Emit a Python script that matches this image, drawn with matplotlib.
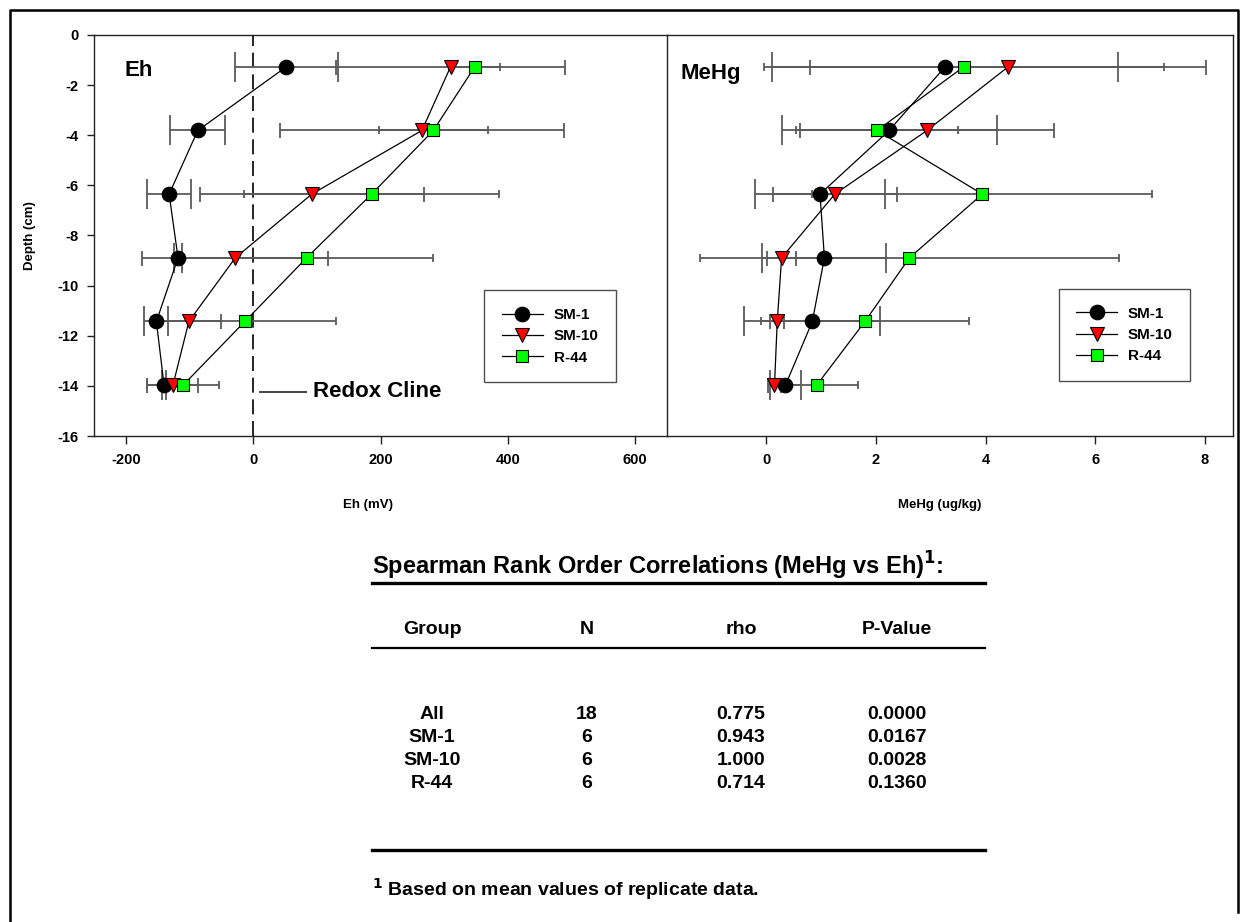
import matplotlib
matplotlib.use("Agg")
import matplotlib.pyplot as plt
from matplotlib.lines import Line2D

plt.rcParams['font.family'] = ['Liberation Sans', 'DejaVu Sans']
plt.rcParams['font.weight'] = 'bold'
plt.rcParams['axes.unicode_minus'] = False

# ---- data -------------------------------------------------------------
depth = [-1.27, -3.81, -6.35, -8.89, -11.43, -13.97]

eh_sm1 = [52, -87, -132, -118, -152, -140]
eh_sm1_err = [81, 43, 34, 6, 19, 3]
eh_sm10 = [310, 265, 92, -28, -101, -126]
eh_sm10_err = [180, 223, 176, 146, 51, 40]
eh_r44 = [348, 283, 186, 84, -13, -110]
eh_r44_err = [40, 86, 200, 199, 143, 57]

mehg_sm1 = [3.26, 2.24, 0.98, 1.06, 0.84, 0.35]
mehg_sm1_err = [3.16, 1.96, 1.19, 1.13, 1.24, 0.28]
mehg_sm10 = [4.41, 2.93, 1.25, 0.28, 0.20, 0.15]
mehg_sm10_err = [3.61, 2.31, 1.13, 0.26, 0.13, 0.12]
mehg_r44 = [3.60, 2.02, 3.94, 2.61, 1.80, 0.92]
mehg_r44_err = [3.65, 1.48, 3.10, 3.82, 1.89, 0.76]

series_names = ["SM-1", "SM-10", "R-44"]
eh_ticks = [-200, 0, 200, 400, 600]
mehg_ticks = [0, 2, 4, 6, 8]
depth_ticks = [0, -2, -4, -6, -8, -10, -12, -14, -16]

groups = ["All", "SM-1", "SM-10", "R-44"]
n_obs = [18, 6, 6, 6]
rho = [0.775, 0.943, 1.000, 0.714]
p_value = [0.0000, 0.0167, 0.0028, 0.1360]

# ---- figure -------------------------------------------------------------
W, H = 1248, 922
fig = plt.figure(figsize=(W / 100, H / 100), dpi=100)


def fx(px):
    return px / W


def fy(py):
    return 1 - py / H


ax_top, ax_bot = 35, 436
ax1 = fig.add_axes([fx(94), fy(ax_bot), fx(667) - fx(94), fy(ax_top) - fy(ax_bot)])
ax2 = fig.add_axes([fx(667), fy(ax_bot), fx(1233) - fx(667), fy(ax_top) - fy(ax_bot)])
ax1.patch.set_visible(False)
ax2.patch.set_visible(False)

styles = [
    dict(marker='o', mfc='black', ms=10.5, cap=10.8),
    dict(marker='v', mfc='#ff0000', ms=10.5, cap=5.4),
    dict(marker='s', mfc='#00ff00', ms=8.8, cap=2.6),
]

err_color = '#5a5a5a'


def draw_panel(ax, xs, errs):
    handles = []
    for x, e, st in zip(xs, errs, styles):
        ax.errorbar(x, depth, xerr=e, fmt='none', ecolor=err_color,
                    elinewidth=1.3, capsize=st['cap'], capthick=1.3, zorder=2)
    for x, st, name in zip(xs, styles, series_names):
        h, = ax.plot(x, depth, color='black', lw=0.9, marker=st['marker'],
                     ms=st['ms'], mfc=st['mfc'], mec='black', mew=0.8,
                     label=name, zorder=3)
        handles.append(h)
    return handles


h1 = draw_panel(ax1, [eh_sm1, eh_sm10, eh_r44], [eh_sm1_err, eh_sm10_err, eh_r44_err])
h2 = draw_panel(ax2, [mehg_sm1, mehg_sm10, mehg_r44], [mehg_sm1_err, mehg_sm10_err, mehg_r44_err])

spine_color = '#222222'
for ax in (ax1, ax2):
    ax.set_ylim(-16, 0)
    for s in ax.spines.values():
        s.set_color(spine_color)
        s.set_linewidth(1.0)
    ax.tick_params(axis='x', direction='out', length=6, width=1.0,
                   color=spine_color, labelsize=10.5, pad=6)

ax1.set_xlim(-250, 650)
ax1.set_xticks(eh_ticks)
ax1.set_yticks(depth_ticks)
ax1.set_yticklabels([str(t) for t in depth_ticks])
ax1.tick_params(axis='y', direction='out', length=5, width=1.0,
                color=spine_color, labelsize=10.5, pad=6)

ax2.set_xlim(-1.81, 8.51)
ax2.set_xticks(mehg_ticks)
ax2.set_yticks([])
ax2.spines['left'].set_visible(False)

# redox cline
ax1.axvline(0, color='black', lw=1.2, dashes=(9, 4), zorder=1)
ax1.plot([11, 83], [-14.24, -14.24], color='#444444', lw=1.4)
ax1.text(94, -14.24, "Redox Cline", fontsize=16, fontweight='bold',
         va='center', ha='left')

ax1.text(-202, -1.4, "Eh", fontsize=16, fontweight='bold', va='center', ha='left')
ax2.text(-1.56, -1.55, "MeHg", fontsize=16, fontweight='bold', va='center', ha='left')

ax1.set_ylabel("Depth (cm)", fontsize=9.5, fontweight='bold', va='center')
ax1.yaxis.set_label_coords(-0.112, 0.5)
ax1.set_xlabel("Eh (mV)", fontsize=9.5, fontweight='bold', va='center')
ax1.xaxis.set_label_coords(0.478, -0.172)
ax2.set_xlabel("MeHg (ug/kg)", fontsize=9.5, fontweight='bold', va='center')
ax2.xaxis.set_label_coords(0.482, -0.172)

for ax, handles, anchor in ((ax1, h1, (484, 290.5)), (ax2, h2, (1058.5, 289))):
    leg = ax.legend(handles=handles, loc='upper left',
                    bbox_to_anchor=(fx(anchor[0]), fy(anchor[1])),
                    bbox_transform=fig.transFigure, borderaxespad=0,
                    frameon=True, fancybox=False, numpoints=1,
                    handlelength=2.7, handletextpad=0.7, borderpad=1.15,
                    labelspacing=0.48, prop=dict(weight='bold', size=11))
    leg.get_frame().set_edgecolor('#222222')
    leg.get_frame().set_linewidth(1.0)

# ---- statistics table ----------------------------------------------------
def hline(y, x0, x1, lw):
    fig.add_artist(Line2D([fx(x0), fx(x1)], [fy(y), fy(y)], color='black',
                          lw=lw, transform=fig.transFigure))


tfs = 14
fig.text(fx(372), fy(566), r"Spearman Rank Order Correlations (MeHg vs Eh)$^\mathbf{1}$:",
         fontsize=17, fontweight='bold', va='center', ha='left')
hline(583, 372, 985, 2.4)
col_x = [432, 587, 741, 897]
for cx, head in zip(col_x, ["Group", "N", "rho", "P-Value"]):
    fig.text(fx(cx), fy(630), head, fontsize=tfs, fontweight='bold',
             ha='center', va='center')
hline(648, 372, 985, 1.6)
row_y = [714, 737, 760, 783]
for ry, g, n, r, p in zip(row_y, groups, n_obs, rho, p_value):
    cells = [g, str(n), f"{r:.3f}", f"{p:.4f}"]
    for cx, c in zip(col_x, cells):
        fig.text(fx(cx), fy(ry), c, fontsize=tfs, fontweight='bold',
                 ha='center', va='center')
hline(850, 372, 985, 2.4)
fig.text(fx(372), fy(889), r"$^\mathbf{1}$ Based on mean values of replicate data.",
         fontsize=tfs, fontweight='bold', va='center', ha='left')

# page frame
fig.add_artist(Line2D([fx(10), fx(10), fx(1238), fx(1238)],
                      [fy(922), fy(10), fy(10), fy(912)], color='black', lw=1.8,
                      transform=fig.transFigure))

fig.savefig("out.png", dpi=100)
